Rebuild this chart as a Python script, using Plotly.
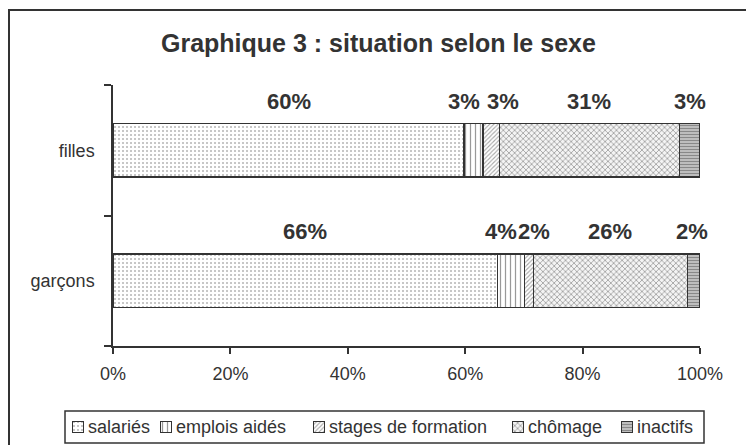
import numpy as np
import plotly.graph_objects as go

# ---------------- data ----------------
categories = ["garçons", "filles"]
series_names = ["salariés", "emplois aidés", "stages de formation", "chômage", "inactifs"]
filles = [59.8, 3.2, 2.8, 30.7, 3.5]
garcons = [65.5, 4.6, 1.5, 26.3, 2.1]
labels_filles = ["60%", "3%", "3%", "31%", "3%"]
labels_garcons = ["66%", "4%", "2%", "26%", "2%"]
x_tick_vals = [0, 20, 40, 60, 80, 100]
x_tick_text = ["0%", "20%", "40%", "60%", "80%", "100%"]
title_text = "Graphique 3 : situation selon le sexe"

# ---------------- styles ----------------
W, H = 746, 445
FONT = "Liberation Sans, Arial, Helvetica, sans-serif"
INK = "#333333"
patterns = [
    dict(shape=".", fgcolor="#6a6a6a", bgcolor="white", size=4, solidity=0.2),
    dict(shape="|", fgcolor="#333333", bgcolor="white", size=5, solidity=0.25),
    dict(shape="/", fgcolor="#4a4a4a", bgcolor="white", size=3, solidity=0.35),
    dict(shape="x", fgcolor="#555555", bgcolor="#f4f4f4", size=4, solidity=0.4),
    dict(shape="-", fgcolor="#444444", bgcolor="#cfcfcf", size=3, solidity=0.5),
]
label_xshift_filles = [0, -9, 12, 0, 0]
label_xshift_garcons = [0, -10, 5, 0, -2]
legend_swatch_left = [72, 160, 313, 512, 621]   # px
legend_box = (65, 411, 704, 443)                 # px


def px(x):
    return x / W


def py(y):
    return 1 - y / H


fig = go.Figure()

values_by_cat = {"garçons": garcons, "filles": filles}
for i, name in enumerate(series_names):
    fig.add_trace(go.Bar(
        y=categories,
        x=[values_by_cat[c][i] for c in categories],
        orientation="h",
        name=name,
        width=0.41,
        marker=dict(color="white", pattern=patterns[i],
                    line=dict(color=INK, width=1.5)),
        showlegend=False,
        hoverinfo="skip",
        xaxis="x", yaxis="y",
    ))

annotations = []
for cat, vals, labs, shifts in [("filles", filles, labels_filles, label_xshift_filles),
                                ("garçons", garcons, labels_garcons, label_xshift_garcons)]:
    starts = np.concatenate([[0], np.cumsum(vals)[:-1]])
    for s, v, lab, sh in zip(starts, vals, labs, shifts):
        annotations.append(dict(
            x=s + v / 2, y=cat, xref="x", yref="y", text=lab, showarrow=False,
            xshift=sh, yshift=49, xanchor="center", yanchor="middle",
            font=dict(family=FONT, size=22, color=INK, weight="bold"),
        ))

# title
annotations.append(dict(
    x=px(378), y=py(43), xref="paper", yref="paper", text="<b>" + title_text + "</b>",
    showarrow=False, xanchor="center", yanchor="middle",
    font=dict(family=FONT, size=25, color=INK),
))

# custom legend: pattern swatches as tiny bars on an auxiliary axis + text labels
sw = 11
for i, name in enumerate(series_names):
    fig.add_trace(go.Bar(
        x=[legend_swatch_left[i] + sw / 2], y=[1], width=[sw],
        marker=dict(color="white", pattern=patterns[i], line=dict(color=INK, width=1)),
        showlegend=False, hoverinfo="skip", xaxis="x2", yaxis="y2",
    ))
    annotations.append(dict(
        x=px(legend_swatch_left[i] + sw + 3), y=py(427), xref="paper", yref="paper",
        text=name, showarrow=False, xanchor="left", yanchor="middle",
        font=dict(family=FONT, size=18, color=INK),
    ))

shapes = [
    # outer chart frame (cut off at right/bottom like the reference)
    dict(type="rect", xref="paper", yref="paper", x0=px(9), y0=-0.05, x1=1.05, y1=py(10),
         line=dict(color=INK, width=2)),
    # legend border
    dict(type="rect", xref="paper", yref="paper", x0=px(legend_box[0]), y0=py(legend_box[3]),
         x1=px(legend_box[2]), y1=py(legend_box[1]), line=dict(color=INK, width=1.5)),
]

fig.update_layout(
    width=W, height=H, autosize=False,
    margin=dict(l=0, r=0, t=0, b=0, autoexpand=False),
    paper_bgcolor="white", plot_bgcolor="white",
    barmode="stack",
    showlegend=False,
    font=dict(family=FONT, size=18, color=INK),
    xaxis=dict(domain=[px(113), px(700)], range=[0, 100], tickvals=x_tick_vals,
               ticktext=x_tick_text, showline=True, linecolor=INK, linewidth=1.5,
               ticks="outside", ticklen=6, tickcolor=INK, tickwidth=1.5,
               showgrid=False, zeroline=False, anchor="y", automargin=False,
               tickfont=dict(family=FONT, size=18, color=INK), ticklabelstandoff=5),
    yaxis=dict(domain=[py(346), py(85)], type="category",
               categoryorder="array", categoryarray=categories, range=[-0.5, 1.5],
               tickson="boundaries", ticks="outside", ticklen=7, tickcolor=INK, tickwidth=1.5,
               showline=True, linecolor=INK, linewidth=1.5, showgrid=False,
               anchor="x", automargin=False, tickfont=dict(family=FONT, size=18, color=INK),
               ticklabelstandoff=13),
    xaxis2=dict(domain=[0, 1], range=[0, W], visible=False, anchor="y2", fixedrange=True,
                automargin=False),
    yaxis2=dict(domain=[py(434), py(420)], range=[-0.136, 1.136], visible=False,
                anchor="x2", fixedrange=True, automargin=False),
    annotations=annotations,
    shapes=shapes,
)

fig.write_html("out.html", config=dict(displayModeBar=False),
               post_script="document.body.style.margin='0';document.body.style.overflow='hidden';")
